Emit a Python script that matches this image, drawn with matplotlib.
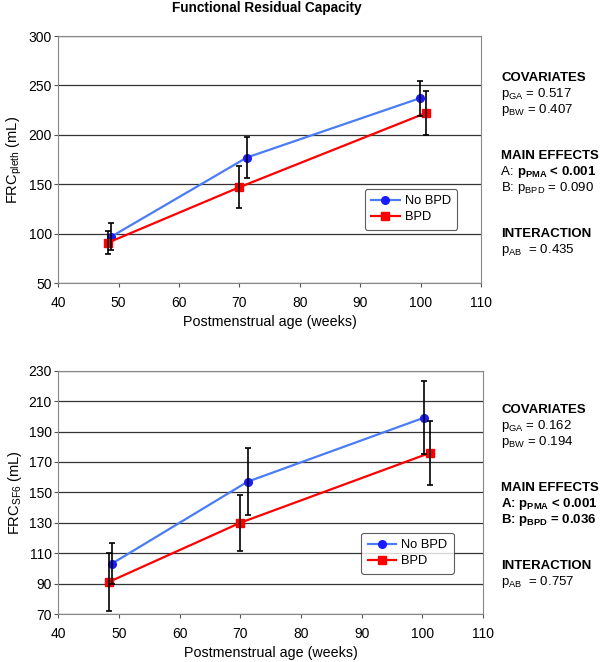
import numpy as np
import matplotlib
matplotlib.use("Agg")
import matplotlib.pyplot as plt

plt.rcParams['font.family'] = ['Liberation Sans', 'DejaVu Sans']
plt.rcParams['mathtext.fontset'] = 'custom'
plt.rcParams['mathtext.rm'] = 'Liberation Sans'
plt.rcParams['mathtext.bf'] = 'Liberation Sans:bold'

# Data
top_x_nobpd = [48.8, 71.2, 99.8]
top_y_nobpd = [97, 177, 237]
top_e_nobpd = [14, 20.5, 18]
top_x_bpd = [48.3, 70.0, 100.8]
top_y_bpd = [91, 147, 222]
top_e_bpd = [12, 21, 22]

bot_x_nobpd = [48.8, 71.2, 100.2]
bot_y_nobpd = [103, 157, 199]
bot_e_nobpd = [13.5, 22, 24]
bot_x_bpd = [48.3, 70.0, 101.3]
bot_y_bpd = [91, 130, 176]
bot_e_bpd = [19, 18.5, 21]

x_ticks = [40, 50, 60, 70, 80, 90, 100, 110]
top_yticks = [50, 100, 150, 200, 250, 300]
bot_yticks = [70, 90, 110, 130, 150, 170, 190, 210, 230]

# (normal-weight prefix, bold part); None = blank gap
top_stats = [("", "COVARIATES"), (r"p$_{\rm GA}$ = 0.517", ""), (r"p$_{\rm BW}$ = 0.407", ""), None,
             ("", "MAIN EFFECTS"), ("A: ", r"p$_{\mathbf{PMA}}$ < 0.001"), (r"B: p$_{\rm BPD}$ = 0.090", ""), None,
             ("", "INTERACTION"), (r"p$_{\rm AB}$  = 0.435", "")]
bot_stats = [("", "COVARIATES"), (r"p$_{\rm GA}$ = 0.162", ""), (r"p$_{\rm BW}$ = 0.194", ""), None,
             ("", "MAIN EFFECTS"), ("", r"A: p$_{\mathbf{PMA}}$ < 0.001"), ("", r"B: p$_{\mathbf{BPD}}$ = 0.036"), None,
             ("", "INTERACTION"), (r"p$_{\rm AB}$  = 0.757", "")]

blue_line = '#4a7cf5'
blue_mk = '#1a1aff'
red = '#ff0000'

fig = plt.figure(figsize=(6, 6.62), dpi=100)
ax1 = fig.add_axes([0.097, 0.5725, 0.705, 0.373])
ax2 = fig.add_axes([0.097, 0.0725, 0.708, 0.3675])


def draw(ax, xn, yn, en, xb, yb, eb, yticks, ylabel, leg_center):
    ax.plot(xn, yn, color=blue_line, lw=1.6, marker='o', ms=5.5,
            mfc=blue_mk, mec=blue_mk, label='No BPD', zorder=3)
    ax.plot(xb, yb, color=red, lw=1.6, marker='s', ms=5.5,
            mfc=red, mec=red, label='BPD', zorder=3)
    ax.errorbar(xn, yn, yerr=en, fmt='none', ecolor='black', elinewidth=1.2,
                capsize=2.5, capthick=1.2, zorder=4)
    ax.errorbar(xb, yb, yerr=eb, fmt='none', ecolor='black', elinewidth=1.2,
                capsize=2.5, capthick=1.2, zorder=4)
    ax.set_xlim(40, 110)
    ax.set_ylim(yticks[0], yticks[-1])
    ax.set_xticks(x_ticks)
    ax.set_yticks(yticks)
    ax.yaxis.grid(True, color='#333333', lw=0.9)
    ax.set_axisbelow(True)
    for s in ax.spines.values():
        s.set_color('#888888')
    ax.tick_params(axis='x', length=3, pad=6, color='#555555', labelsize=10)
    ax.tick_params(axis='y', length=3, pad=1.5, color='#555555', labelsize=10)
    ax.set_xlabel('Postmenstrual age (weeks)', fontsize=10.3, labelpad=4)
    ax.set_ylabel(ylabel, fontsize=10.5, labelpad=3)
    leg = ax.legend(loc='center', bbox_to_anchor=leg_center, fontsize=9.3,
                    frameon=True, fancybox=True, handlelength=2.2,
                    borderpad=0.5, labelspacing=0.3, handletextpad=0.4)
    leg.get_frame().set_edgecolor('#333333')
    leg.get_frame().set_linewidth(0.8)


draw(ax1, top_x_nobpd, top_y_nobpd, top_e_nobpd, top_x_bpd, top_y_bpd, top_e_bpd,
     top_yticks, r'FRC$_{\rm pleth}$ (mL)', (0.834, 0.298))
draw(ax2, bot_x_nobpd, bot_y_nobpd, bot_e_nobpd, bot_x_bpd, bot_y_bpd, bot_e_bpd,
     bot_yticks, r'FRC$_{\rm SF6}$ (mL)', (0.822, 0.25))

fig.text(0.444, 1 - 8 / 662, 'Functional Residual Capacity', ha='center', va='center',
         fontsize=9.8, fontweight='bold')

renderer = fig.canvas.get_renderer()


def stats(lines, y0):
    y = y0
    for item in lines:
        if item is None:
            y += 30
            continue
        normal, bold = item
        yy = 1 - y / 662
        x0 = 501 / 600
        if normal:
            t = fig.text(x0, yy, normal, ha='left', va='baseline', fontsize=9.5)
            if bold:
                # bold part follows the plain prefix on the same baseline
                w = t.get_window_extent(renderer).width
                x0 = x0 + w / 600
        if bold:
            fig.text(x0, yy, bold, ha='left', va='baseline', fontsize=9.5,
                     fontweight='bold')
        y += 16


stats(top_stats, 81)
stats(bot_stats, 413)

fig.savefig('out.png', dpi=100)
